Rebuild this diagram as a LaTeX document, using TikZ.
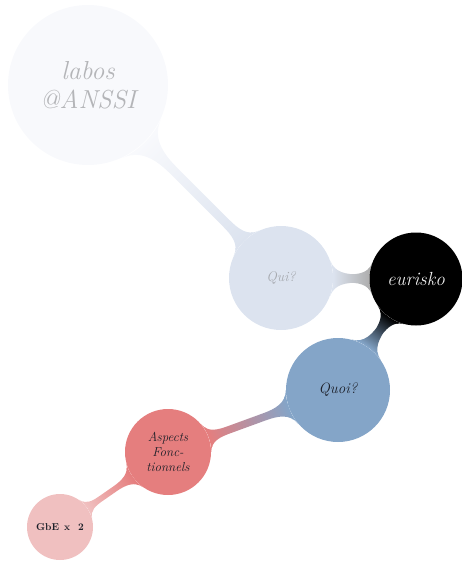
\documentclass[tikz,border=0pt]{standalone}
\usetikzlibrary{mindmap,backgrounds}

% concept colours
\definecolor{labosC}{HTML}{F8F9FC}
\definecolor{quiC}{HTML}{DCE3EF}
\definecolor{eurC}{HTML}{000000}
\definecolor{eurFade}{HTML}{AEAEAE}
\definecolor{quoiC}{HTML}{84A5C8}
\definecolor{aspC}{HTML}{E57E7E}
\definecolor{gbeC}{HTML}{F0C0C0}
% text colours
\definecolor{labosT}{HTML}{B4B5B8}
\definecolor{quiT}{HTML}{A6A9AF}
\definecolor{eurT}{HTML}{EEEEEE}
\definecolor{darkT}{HTML}{1C1F28}

\begin{document}
\begin{tikzpicture}[x=1pt,y=-1pt,
  bubble/.style={circle, inner sep=0pt, align=center},
  ]
\useasboundingbox (0,0) rectangle (462,561);

% concepts
\node[bubble, fill=labosC, minimum size=160pt, text=labosT,
      font=\itshape\fontsize{26}{29}\selectfont] (labos) at (88,85) {labos\\@ANSSI};
\node[bubble, fill=quiC, minimum size=104pt, text=quiT,
      font=\itshape\fontsize{14}{17}\selectfont] (qui) at (281,278) {Qui?};
\node[bubble, fill=eurC, minimum size=93pt, text=eurT,
      font=\itshape\fontsize{19}{22}\selectfont] (eur) at (416,279) {eurisko};
\node[bubble, fill=quoiC, minimum size=104pt, text=darkT,
      font=\itshape\fontsize{15}{18}\selectfont] (quoi) at (338,390) {Quoi?};
\node[bubble, fill=aspC, minimum size=86pt, text=darkT,
      font=\itshape\fontsize{13}{15}\selectfont] (asp) at (168,452) {Aspects\\Fonc-\\tionnels};
\node[bubble, fill=gbeC, minimum size=66pt, text=darkT,
      font=\bfseries\fontsize{10}{12}\selectfont] (gbe) at (60,527) {GbE\hspace{5pt}x\hspace{8pt}2};

% connection bars
\begin{pgfonlayer}{background}
\path[line width=12pt] (qui) to[circle connection bar switch color=from (quiC) to (labosC)] (labos);
\path[line width=10pt] (eur) to[circle connection bar switch color=from (eurFade) to (quiC)] (qui);
\path[line width=10pt] (eur) to[circle connection bar switch color=from (eurC) to (quoiC)] (quoi);
\path[line width=8pt] (quoi) to[circle connection bar switch color=from (quoiC) to (aspC)] (asp);
\path[line width=6pt] (asp) to[circle connection bar switch color=from (aspC) to (gbeC)] (gbe);
\end{pgfonlayer}
\end{tikzpicture}
\end{document}
